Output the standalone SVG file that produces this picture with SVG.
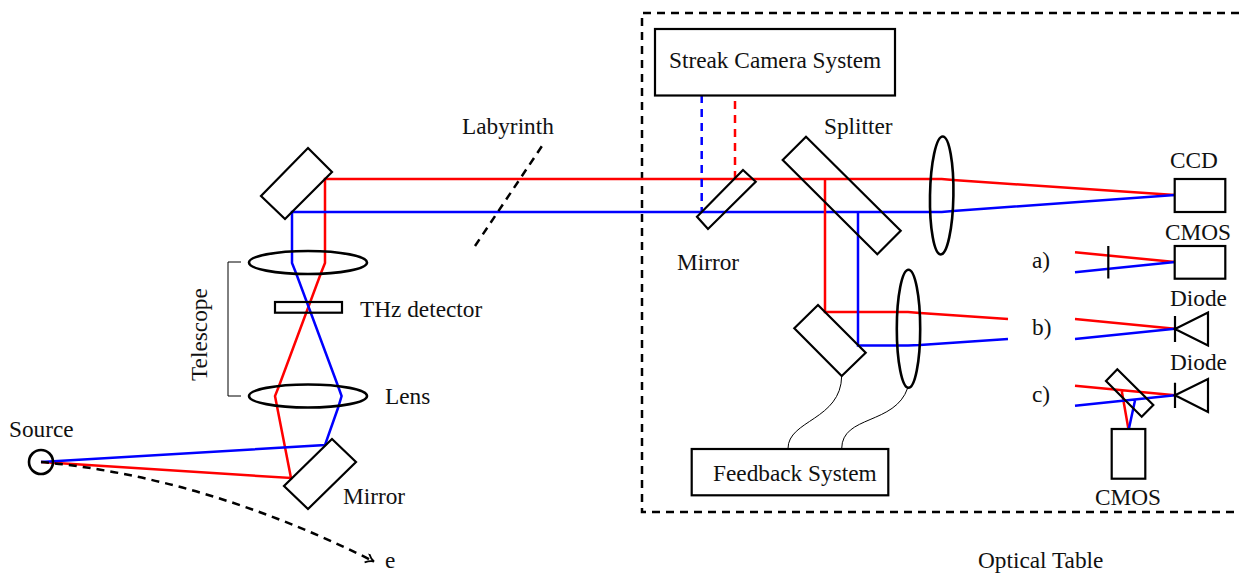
<svg xmlns="http://www.w3.org/2000/svg" width="1239" height="573" viewBox="0 0 1239 573">
<style>
text{font-family:"Liberation Serif","Times New Roman",serif;font-size:23.3px;fill:#111}
.k{fill:none;stroke:#000;stroke-width:2.2}
.l{fill:none;stroke:#000;stroke-width:2.6}
.t{fill:none;stroke:#000;stroke-width:1}
.r{fill:none;stroke:#f00;stroke-width:2.5}
.b{fill:none;stroke:#00f;stroke-width:2.5}
.d{stroke-dasharray:8 6;stroke-width:2.5}
</style>
<defs>
<marker id="arr" markerWidth="12" markerHeight="12" refX="9" refY="5" orient="auto" markerUnits="userSpaceOnUse"><path d="M1 0Q5 4 9 5Q5 6 1 10" fill="none" stroke="#000" stroke-width="1.8"/></marker>
</defs>
<g id="optical-table"><path class="k d" d="M1239 13H642V512H1239"/><text x="978" y="568">Optical Table</text></g>
<g id="connectors">
<path class="r" d="M41 462L291 478L275 396L279 386L321 273L325 263V179H941.7L953 180L1175 195"/>
<path class="b" d="M41 462L325 445L338 408L341.6 396L338 386L296 273L292 263V212H941.7L953 211L1175 195"/>
<path class="r" d="M825 179V312H908L920 313L1008 319"/>
<path class="b" d="M858 212V345.5H908L920 345L1008 339"/>
<path class="k d" d="M41 462Q205 477 374 561.5" marker-end="url(#arr)"/>
<path class="k d" d="M475 246L542 146"/>
<path class="b d" d="M701.7 95V212"/>
<path class="r d" d="M735 101V179"/>
<path class="t" d="M841.7 376C841 420 788 420 788 448.5"/>
<path class="t" d="M907.7 388C895 425 842 415 841.7 448.5"/>
<path class="t" d="M241 262H228V396H241"/>
<path class="r" d="M1075 252.3L1175 262M1075 319L1175 328.7M1075 385.7L1175 395.3M1121.7 390.7L1128.3 428.3"/>
<path class="b" d="M1075 272.3L1175 262M1075 339L1175 328.7M1075 405.7L1175 395.3M1135 400.5L1129 428.3"/>
</g>
<g id="source"><circle class="l" cx="41" cy="462" r="12"/><text x="9" y="437">Source</text></g>
<g id="electron-label"><text x="385" y="568">e</text></g>
<g id="mirror-top"><path class="k" d="M308 148L332 172L285 219L261 196Z"/></g>
<g id="mirror-bottom"><path class="k" d="M332 439L356 462L308 509L284 486Z"/><text x="343" y="504">Mirror</text></g>
<g id="lens-top"><ellipse class="l" cx="308" cy="262.5" rx="59" ry="11.5"/></g>
<g id="lens-bottom"><ellipse class="l" cx="308" cy="396" rx="59" ry="11.5"/><text x="385" y="404">Lens</text></g>
<g id="thz-detector"><rect class="k" x="275" y="302" width="67" height="10.7"/><text x="360" y="317">THz detector</text></g>
<g id="telescope"><text transform="translate(207 381) rotate(-90)">Telescope</text></g>
<g id="labyrinth"><text x="462" y="134">Labyrinth</text></g>
<g id="streak-camera"><rect class="k" x="655" y="29" width="240" height="66.5"/><text x="669" y="68">Streak Camera System</text></g>
<g id="mirror-table"><path class="k" d="M743 170L755.7 181.7L708 229L697 216.7Z"/><text x="677" y="270">Mirror</text></g>
<g id="splitter"><path class="k" d="M806 136.7L900.7 230.7L877.3 254.3L782.7 160Z"/><text x="824" y="134">Splitter</text></g>
<g id="lens-main"><ellipse class="l" cx="941.7" cy="195.5" rx="11.7" ry="59" transform="rotate(1 941.7 195.5)"/></g>
<g id="lens-feedback"><ellipse class="l" cx="908.5" cy="328.7" rx="11.7" ry="59"/></g>
<g id="mirror-lower"><path class="k" d="M818 305L865.7 352.7L841.7 376L794.3 328.3Z"/></g>
<g id="feedback-system"><rect class="k" x="691.7" y="449" width="196.6" height="46.3"/><text x="713" y="481">Feedback System</text></g>
<g id="ccd"><rect class="k" x="1174.7" y="179" width="50.6" height="33"/><text x="1170" y="168">CCD</text></g>
<g id="path-a"><text x="1032" y="268">a)</text><path class="k" d="M1108.3 246V278.5"/></g>
<g id="cmos-a"><rect class="k" x="1174.7" y="246" width="50.6" height="32.7"/><text x="1165" y="240">CMOS</text></g>
<g id="path-b"><text x="1032" y="335">b)</text></g>
<g id="diode-b"><path class="k" d="M1175 316V342M1175 329L1208 312.5V345.5Z"/><text x="1170" y="306">Diode</text></g>
<g id="path-c"><text x="1032" y="402">c)</text></g>
<g id="diode-c"><path class="k" d="M1175 382.7V408M1175 395.3L1208 379V412Z"/><text x="1170" y="370">Diode</text></g>
<g id="mirror-c"><path class="k" d="M1117.3 369.3L1153.3 405L1141.7 416.7L1106 381Z"/></g>
<g id="cmos-c"><rect class="k" x="1111.7" y="429" width="33.6" height="49.7"/><text x="1095" y="505">CMOS</text></g>
</svg>
